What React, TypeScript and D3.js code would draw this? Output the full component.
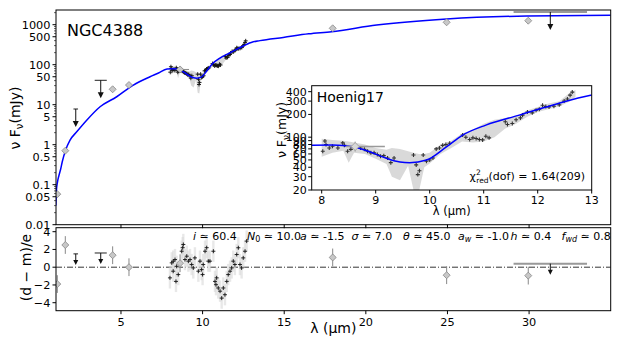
import React from 'react';
import * as d3 from 'd3';

// ---------------- data ----------------
const modelLam = [1.01, 1.03, 1.05, 1.1, 1.2, 1.3, 1.4, 1.59, 1.88, 2.29, 2.9, 3.72, 4.74, 5.76, 6.78, 7.3, 7.82, 8.2, 8.58, 8.89, 9.2, 9.45, 9.63, 9.94, 10.31, 10.61, 11.04, 11.66, 12.27, 12.98, 13.51, 14.94, 16.5, 17.9, 20.66, 24.95, 29.85, 35.0];
const modelFlux = [0.03, 0.05, 0.075, 0.11, 0.17, 0.24, 0.37, 0.7, 1.3, 2.1, 4.1, 8.9, 15.8, 31, 50, 62, 78, 79, 74.6, 64, 52.5, 47, 46, 49.8, 74.6, 106.6, 144.6, 196, 265, 360, 400, 480, 590, 668, 979, 1387, 1650, 1720];

const specLam = [8.02, 8.06, 8.08, 8.14, 8.2, 8.3, 8.39, 8.42, 8.48, 8.54, 8.72, 8.79, 8.85, 8.91, 8.97, 9.03, 9.09, 9.15, 9.22, 9.28, 9.34, 9.7, 9.75, 9.78, 9.81, 9.88, 9.94, 10.0, 10.06, 10.12, 10.18, 10.24, 10.3, 10.37, 10.61, 10.67, 10.74, 10.8, 10.86, 10.92, 10.98, 11.04, 11.1, 11.4, 11.44, 11.53, 11.6, 11.68, 11.72, 11.81, 11.9, 11.97, 12.03, 12.09, 12.15, 12.21, 12.3, 12.4, 12.49, 12.55, 12.6, 12.64];
const specFlux = [65, 89, 80, 72, 76, 72, 84, 78, 65, 69, 72, 69, 65, 62, 62, 59, 56, 57, 53, 46, 53, 58, 43, 32, 36, 58, 48, 50, 53, 70, 72, 78, 80, 83, 107, 100, 93, 98, 96, 93, 92, 103, 98, 160, 147, 152, 170, 180, 196, 215, 210, 228, 235, 265, 255, 251, 257, 268, 300, 320, 360, 395];

const bandLam = [8.0, 8.2, 8.4, 8.5, 8.6, 8.8, 9.0, 9.2, 9.3, 9.45, 9.6, 9.7, 9.8, 9.9, 10.0, 10.2, 10.4, 10.6, 10.8, 11.0, 11.2, 11.4, 11.6, 11.8, 12.0, 12.2, 12.4, 12.6, 12.7];
const bandLo = [55, 62, 66, 46, 62, 60, 52, 44, 30, 27, 42, 20, 19, 40, 45, 60, 72, 88, 85, 88, 100, 130, 150, 185, 215, 235, 255, 300, 340];
const bandHi = [95, 92, 90, 88, 85, 80, 72, 68, 72, 70, 65, 62, 60, 60, 62, 80, 90, 112, 125, 150, 170, 180, 190, 225, 250, 280, 300, 390, 420];

const resLam = [8.0, 8.11, 8.2, 8.2, 8.31, 8.37, 8.41, 8.51, 8.72, 8.78, 8.82, 8.92, 9.03, 9.13, 9.23, 9.33, 9.43, 9.53, 9.74, 9.84, 9.94, 10.0, 10.04, 10.15, 10.25, 10.35, 10.45, 10.66, 10.76, 10.82, 10.86, 10.96, 11.07, 11.17, 11.27, 11.37, 11.48, 11.57, 11.68, 11.78, 11.88, 11.98, 12.09, 12.19, 12.29, 12.39, 12.49, 12.6, 12.7];
const resVal = [-1.2, 0.49, -0.45, 0.68, 0.86, -1.6, 0.1, -0.83, 1.8, 2.2, 2.56, 0.86, 1.24, 0.68, 0.86, 0.3, -0.08, 1.05, -0.45, 0.68, -0.27, -0.83, 0.3, 1.8, 2.2, 0.68, 0.68, 1.8, -1.6, -1.97, -1.2, -2.34, -2.7, -3.48, -2.34, -3.1, -1.6, -0.83, -0.45, -0.08, 0.68, 0.3, 1.43, 2.19, 0.3, -0.08, 1.05, 1.8, 2.94];

const photLam = [1.1, 1.59, 4.49, 5.49, 8.62, 17.97, 24.95, 29.95];
const photFlux = [0.058, 0.708, 24.3, 31, 76, 812, 1148, 1259];
const photXlo = [1.02, 1.59, 4.49, 5.49, 8.45, 17.97, 24.95, 29.95];
const photXhi = [1.25, 1.59, 4.49, 5.49, 9.17, 17.97, 24.95, 29.95];
const photRes = [-1.9, 2.5, 1.35, 0.0, 0.45, 1.1, -0.9, -0.95];

const ulLam = [2.23, 3.76, 31.3];
const ulFlux = [7.8, 40.7, 2078];
const ulXerr = [0.14, 0.37, 2.25];
const ulRes = [1.5, 1.6, 0.4];

const mainYTicks = [1000, 500, 100, 50, 10, 5, 1, 0.5, 0.1, 0.05, 0.01];
const mainYLabels = ['1000', '500', '100', '50', '10', '5', '1', '0.5', '0.1', '0.05', '0.01'];
const xTicks = [5, 10, 15, 20, 25, 30];
const resTicks = [4, 2, 0, -2, -4];
const resLabels = ['4', '2', '0', '\u22122', '\u22124'];
const insetXTicks = [8, 9, 10, 11, 12, 13];
const insetYTicks = [400, 300, 200, 100, 90, 80, 70, 60, 50, 40, 30, 20];

// ---------------- layout ----------------
const W = 623, H = 346;
const mL = 56, mR = 610.7, mT = 10, mB = 224.7;
const rT = 227.7, rB = 310.7;
const iL = 311.7, iR = 591.7, iT = 85.7, iB = 190;
const FONT = 'DejaVu Sans, Verdana, sans-serif';

const xMain = d3.scaleLinear().domain([1.02, 35]).range([mL, mR]);
const yMain = d3.scaleLog().domain([0.01, 2330]).range([mB, mT]);
const yRes = d3.scaleLinear().domain([-4.9, 4.45]).range([rB, rT]);
const xIn = d3.scaleLinear().domain([7.815, 13]).range([iL, iR]);
const yIn = d3.scaleLog().domain([20, 480]).range([iB, iT]);

const diamond = (r: number) => `M0,${-r}L${r},0L0,${r}L${-r},0Z`;
const cross = 'M-2,0H2M0,-2V2';

function minorLogTicks(lo: number, hi: number) {
  const out: number[] = [];
  for (let e = -3; e <= 4; e++) {
    for (const m of [2, 3, 4, 6, 7, 8, 9]) {
      const v = m * Math.pow(10, e);
      if (v > lo && v < hi) out.push(v);
    }
  }
  return out;
}

export default function App() {
  const modelIdx = modelLam.map((_, i) => i);
  const lineMain = d3.line<number>().x(i => xMain(modelLam[i])).y(i => yMain(modelFlux[i])).curve(d3.curveMonotoneX);
  const lineIn = d3.line<number>().x(i => xIn(modelLam[i])).y(i => yIn(modelFlux[i])).curve(d3.curveMonotoneX);
  const bandIdx = bandLam.map((_, i) => i);
  const areaMain = d3.area<number>().x(i => xMain(bandLam[i])).y0(i => yMain(bandLo[i])).y1(i => yMain(bandHi[i]));
  const areaIn = d3.area<number>().x(i => xIn(bandLam[i])).y0(i => yIn(bandLo[i])).y1(i => yIn(bandHi[i]));
  const minors = minorLogTicks(0.01, 2330);

  return (
    <svg width={W} height={H} style={{ position: 'absolute', left: 0, top: 0, background: '#fff' }} fontFamily={FONT}>
      <defs>
        <clipPath id="cMain"><rect x={mL} y={mT} width={mR - mL} height={mB - mT} /></clipPath>
        <clipPath id="cRes"><rect x={mL} y={rT} width={mR - mL} height={rB - rT} /></clipPath>
        <clipPath id="cIn"><rect x={iL} y={iT} width={iR - iL} height={iB - iT} /></clipPath>
      </defs>

      {/* ---------- main panel ---------- */}
      <g clipPath="url(#cMain)">
        <path d={areaMain(bandIdx) || ''} fill="#d0d0d0" opacity={0.8} />
        {specLam.map((l, i) => (
          <path key={'sm' + i} d={cross} transform={`translate(${xMain(l)},${yMain(specFlux[i])})`} stroke="#111" strokeWidth={0.9} fill="none" />
        ))}
        <path d={lineMain(modelIdx) || ''} fill="none" stroke="#0000ff" strokeWidth={1.5} />
        {photLam.map((l, i) => (
          <g key={'pm' + i}>
            {photXhi[i] > photXlo[i] && (
              <line x1={xMain(photXlo[i])} x2={xMain(photXhi[i])} y1={yMain(photFlux[i])} y2={yMain(photFlux[i])} stroke="#888" strokeWidth={1} />
            )}
            <line x1={xMain(l)} x2={xMain(l)} y1={yMain(photFlux[i] * 0.85)} y2={yMain(photFlux[i] * 1.1)} stroke="#888" strokeWidth={1} />
            <path d={diamond(3.5)} transform={`translate(${xMain(l)},${yMain(photFlux[i])})`} fill="#c8c8c8" stroke="#888" strokeWidth={0.8} />
          </g>
        ))}
        {ulLam.map((l, i) => {
          const x = xMain(l), y = yMain(ulFlux[i]);
          const wide = ulXerr[i] > 1;
          return (
            <g key={'um' + i}>
              <line x1={xMain(l - ulXerr[i])} x2={xMain(l + ulXerr[i])} y1={y} y2={y} stroke={wide ? '#999' : '#222'} strokeWidth={wide ? 2 : 1} />
              <line x1={x} x2={x} y1={y} y2={y + 13} stroke="#111" strokeWidth={1} />
              <path d={`M${x - 3},${y + 12}L${x + 3},${y + 12}L${x},${y + 18}Z`} fill="#111" />
            </g>
          );
        })}
      </g>
      <rect x={mL} y={mT} width={mR - mL} height={mB - mT} fill="none" stroke="#000" strokeWidth={1} />
      {mainYTicks.map((t, i) => (
        <g key={'my' + i}>
          <line x1={mL - 3.5} x2={mL} y1={yMain(t)} y2={yMain(t)} stroke="#000" />
          <text x={mL - 5.5} y={yMain(t) + 4} textAnchor="end" fontSize={11.3}>{mainYLabels[i]}</text>
        </g>
      ))}
      {minors.filter(v => !mainYTicks.includes(v)).map((v, i) => (
        <line key={'mn' + i} x1={mL - 2} x2={mL} y1={yMain(v)} y2={yMain(v)} stroke="#000" strokeWidth={0.6} />
      ))}
      {xTicks.map(t => (
        <line key={'mx' + t} x1={xMain(t)} x2={xMain(t)} y1={mB} y2={mB + 3.5} stroke="#000" />
      ))}
      <text x={67} y={35.7} fontSize={16}>NGC4388</text>
      <text transform={`translate(20,118) rotate(-90)`} textAnchor="middle" fontSize={14}>
        ν F<tspan fontSize={10} dy={3}>ν</tspan><tspan dy={-3}>(mJy)</tspan>
      </text>

      {/* ---------- inset ---------- */}
      <rect x={iL} y={iT} width={iR - iL} height={iB - iT} fill="#fff" />
      <g clipPath="url(#cIn)">
        <path d={areaIn(bandIdx) || ''} fill="#d0d0d0" opacity={0.8} />
        {specLam.map((l, i) => (
          <path key={'si' + i} d={cross} transform={`translate(${xIn(l)},${yIn(specFlux[i])})`} stroke="#333" strokeWidth={1.1} fill="none" />
        ))}
        <path d={lineIn(modelIdx) || ''} fill="none" stroke="#0000ff" strokeWidth={1.5} />
        {photLam.filter(l => l > 7.8 && l < 13).map((l, j) => {
          const i = photLam.indexOf(l);
          return (
            <g key={'pi' + j}>
              <line x1={xIn(photXlo[i])} x2={xIn(photXhi[i])} y1={yIn(photFlux[i] * 0.99)} y2={yIn(photFlux[i] * 0.99)} stroke="#999" strokeWidth={1.5} />
              <line x1={xIn(l)} x2={xIn(l)} y1={yIn(photFlux[i] * 0.85)} y2={yIn(photFlux[i] * 1.15)} stroke="#999" strokeWidth={1} />
              <path d={diamond(4)} transform={`translate(${xIn(l)},${yIn(photFlux[i] * 0.99)})`} fill="#d8d8d8" stroke="#999" strokeWidth={0.8} />
            </g>
          );
        })}
      </g>
      <rect x={iL} y={iT} width={iR - iL} height={iB - iT} fill="none" stroke="#000" strokeWidth={1} />
      {insetYTicks.map(t => (
        <g key={'iy' + t}>
          <line x1={iL - 3.5} x2={iL} y1={yIn(t)} y2={yIn(t)} stroke="#000" />
          <text x={iL - 5} y={yIn(t) + 4} textAnchor="end" fontSize={11}>{t}</text>
        </g>
      ))}
      {insetXTicks.map(t => (
        <g key={'ix' + t}>
          <line x1={xIn(t)} x2={xIn(t)} y1={iB} y2={iB + 3.5} stroke="#000" />
          <text x={xIn(t)} y={iB + 14} textAnchor="middle" fontSize={11}>{t}</text>
        </g>
      ))}
      <text x={316.7} y={101.7} fontSize={14}>Hoenig17</text>
      <text x={585} y={180} textAnchor="end" fontSize={11}>
        χ<tspan fontSize={7.5} dy={-5}>2</tspan><tspan fontSize={7.5} dx={-4.5} dy={8}>red</tspan><tspan dy={-3}>(dof) = 1.64(209)</tspan>
      </text>
      <text x={(iL + iR) / 2} y={215} textAnchor="middle" fontSize={11.5}>λ (μm)</text>
      <text transform={`translate(286,130) rotate(-90)`} textAnchor="middle" fontSize={12.5}>
        ν F<tspan fontSize={9} dy={3}>ν</tspan><tspan dy={-3}>(mJy)</tspan>
      </text>

      {/* ---------- residual panel ---------- */}
      <g clipPath="url(#cRes)">
        <line x1={mL} x2={mR} y1={yRes(0)} y2={yRes(0)} stroke="#000" strokeWidth={0.8} strokeDasharray="6,2,1,2" />
        {resLam.map((l, i) => (
          <rect key={'rb' + i} x={xMain(l) - 1.2} width={2.4} y={yRes(resVal[i] + 1.2)} height={yRes(resVal[i] - 1.2) - yRes(resVal[i] + 1.2)} fill="#d8d8d8" opacity={0.6} />
        ))}
        {resLam.map((l, i) => (
          <path key={'rs' + i} d={cross} transform={`translate(${xMain(l)},${yRes(resVal[i])})`} stroke="#111" strokeWidth={0.9} fill="none" />
        ))}
        {photLam.map((l, i) => (
          <g key={'pr' + i}>
            <line x1={xMain(l)} x2={xMain(l)} y1={yRes(photRes[i] - 1)} y2={yRes(photRes[i] + 1)} stroke="#888" strokeWidth={1} />
            <path d={diamond(3.5)} transform={`translate(${xMain(l)},${yRes(photRes[i])})`} fill="#c8c8c8" stroke="#888" strokeWidth={0.8} />
          </g>
        ))}
        {ulLam.map((l, i) => {
          const x = xMain(l), y = yRes(ulRes[i]);
          const wide = ulXerr[i] > 1;
          return (
            <g key={'ur' + i}>
              <line x1={xMain(l - ulXerr[i])} x2={xMain(l + ulXerr[i])} y1={y} y2={y} stroke={wide ? '#999' : '#222'} strokeWidth={wide ? 2 : 1} />
              <line x1={x} x2={x} y1={y} y2={y + 7} stroke="#111" strokeWidth={1} />
              <path d={`M${x - 2.5},${y + 6}L${x + 2.5},${y + 6}L${x},${y + 11}Z`} fill="#111" />
            </g>
          );
        })}
      </g>
      <rect x={mL} y={rT} width={mR - mL} height={rB - rT} fill="none" stroke="#000" strokeWidth={1} />
      {resTicks.map((t, i) => (
        <g key={'ry' + t}>
          <line x1={mL - 3.5} x2={mL} y1={yRes(t)} y2={yRes(t)} stroke="#000" />
          <text x={mL - 5.5} y={yRes(t) + 4} textAnchor="end" fontSize={11.3}>{resLabels[i]}</text>
        </g>
      ))}
      {xTicks.map(t => (
        <g key={'rx' + t}>
          <line x1={xMain(t)} x2={xMain(t)} y1={rB} y2={rB + 3.5} stroke="#000" />
          <text x={xMain(t)} y={rB + 15.5} textAnchor="middle" fontSize={11.3}>{t}</text>
        </g>
      ))}
      <text x={(mL + mR) / 2} y={333} textAnchor="middle" fontSize={14}>λ (μm)</text>
      <text transform={`translate(31,267.5) rotate(-90)`} textAnchor="middle" fontSize={14}>(d − m)/e</text>

      {/* parameters */}
      <g fontSize={11}>
        <text x={193} y={240}><tspan fontStyle="italic">i</tspan> ≃ 60.4</text>
        <text x={247} y={240}><tspan fontStyle="italic">N</tspan><tspan fontSize={8} dy={2}>0</tspan><tspan dy={-2}> ≃ 10.0</tspan></text>
        <text x={300} y={240}><tspan fontStyle="italic">a</tspan> ≃ -1.5</text>
        <text x={351.5} y={240}><tspan fontStyle="italic">σ</tspan> ≃ 7.0</text>
        <text x={403} y={240}><tspan fontStyle="italic">θ</tspan> ≃ 45.0</text>
        <text x={458} y={240}><tspan fontStyle="italic">a</tspan><tspan fontSize={8} fontStyle="italic" dy={2}>w</tspan><tspan dy={-2}> ≃ -1.0</tspan></text>
        <text x={510.5} y={240}><tspan fontStyle="italic">h</tspan> ≃ 0.4</text>
        <text x={561.5} y={240}><tspan fontStyle="italic">f</tspan><tspan fontSize={8} fontStyle="italic" dy={2}>wd</tspan><tspan dy={-2}> ≃ 0.8</tspan></text>
      </g>
    </svg>
  );
}
